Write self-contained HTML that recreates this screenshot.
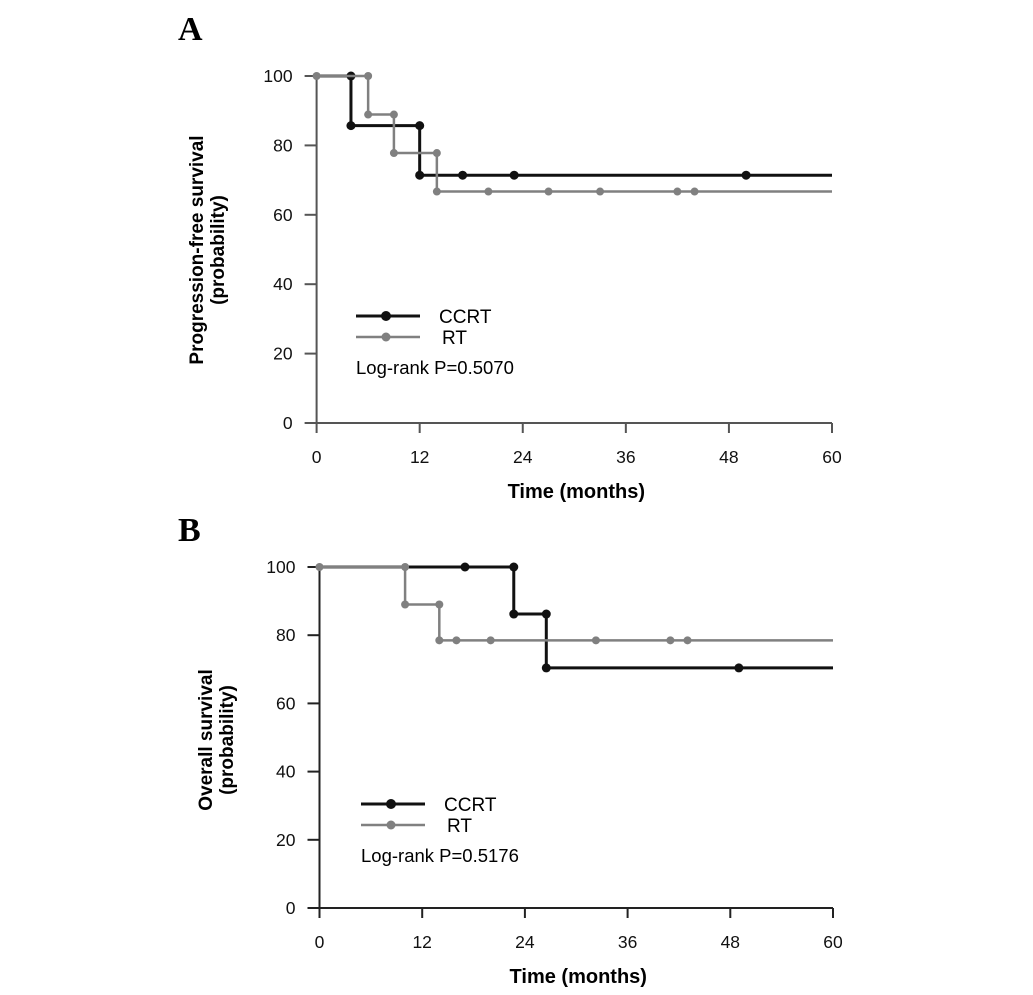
<!DOCTYPE html>
<html><head><meta charset="utf-8"><style>
html,body{margin:0;padding:0;background:#fff;}
svg{display:block;font-family:"Liberation Sans",Arial,sans-serif;}
</style></head><body>
<svg id="fig" width="1033" height="995" viewBox="0 0 1033 995"></svg>
<script>
// Panel A: progression-free survival
const ticksX = [0,12,24,36,48,60];
const ticksY = [0,20,40,60,80,100];
const aCcrtSteps = [[0,100],[4,85.7],[12,71.4]];
const aCcrtCensor = [17,23,50];
const aRtSteps = [[0,100],[6,88.9],[9,77.8],[14,66.7]];
const aRtCensor = [0,20,27,33,42,44];
// Panel B: overall survival
const bCcrtSteps = [[0,100],[22.7,86.2],[26.5,70.4]];
const bCcrtCensor = [17,49];
const bRtSteps = [[0,100],[10,89],[14,78.5]];
const bRtCensor = [0,16,20,32.3,41,43];

const NS='http://www.w3.org/2000/svg';
const svg=document.getElementById('fig');
function mk(tag,attrs,parent){const e=document.createElementNS(NS,tag);for(const k in attrs)e.setAttribute(k,attrs[k]);(parent||svg).appendChild(e);return e;}

function panel(cfg){
  const g=mk('g',{});
  
  
  const sx=v=>cfg.x0+(cfg.x1-cfg.x0)*v/60;
  const sy=v=>cfg.y0+(cfg.y1-cfg.y0)*v/100;
  const L=mk('text',{x:178,y:cfg.letterY,'font-family':'Liberation Serif, serif','font-weight':'bold','font-size':34},g);
  L.textContent=cfg.letter;
  
  
  const ax=mk('path',{d:`M${sx(0)} ${sy(100)}V${sy(0)}H${sx(60)}`,stroke:cfg.axisColor,'stroke-width':2,fill:'none'},g);
  
  
  ticksX.forEach(t=>{
    mk('line',{x1:sx(t),x2:sx(t),y1:sy(0),y2:sy(0)+10,stroke:cfg.axisColor,'stroke-width':2},g);
    const tx=mk('text',{x:sx(t),y:sy(0)+40,'text-anchor':'middle','font-size':17.5,fill:'#111'},g);
    tx.textContent=t;
    
    
  });
  ticksY.forEach(t=>{
    mk('line',{x1:sx(0)-12,x2:sx(0),y1:sy(t),y2:sy(t),stroke:cfg.axisColor,'stroke-width':2},g);
    const ty=mk('text',{x:sx(0)-24,y:sy(t)+6,'text-anchor':'end','font-size':17.5,fill:'#111'},g);
    ty.textContent=t;
    
    
  });
  const xt=mk('text',{x:(sx(0)+sx(60))/2+2,y:sy(0)+75,'text-anchor':'middle','font-size':20,'font-weight':'bold'},g);
  xt.textContent='Time (months)';
  
  
  cfg.ytitle.forEach((s,i)=>{
    const x=cfg.ytitleX+i*21, y=cfg.ytitleY;
    const yt=mk('text',{x:x,y:y,'text-anchor':'middle','font-size':19,'font-weight':'bold',transform:`rotate(-90 ${x} ${y})`},g);
    yt.textContent=s;
    
    
  });
  function series(steps,cens,color,w,r,name){
    let d=`M${sx(steps[0][0])} ${sy(steps[0][1])}`;
    const dots=[];
    for(let i=1;i<steps.length;i++){
      d+=`H${sx(steps[i][0])}`; dots.push([steps[i][0],steps[i-1][1]]);
      d+=`V${sy(steps[i][1])}`; dots.push([steps[i][0],steps[i][1]]);
    }
    d+=`H${sx(60)}`;
    const sg=mk('g',{},g);
    
    
    mk('path',{d:d,stroke:color,'stroke-width':w,fill:'none'},sg);
    const last=steps[steps.length-1][1];
    cens.forEach(c=>{
      let yv=last;
      for(let i=steps.length-1;i>=0;i--){if(c>=steps[i][0]){yv=steps[i][1];break;}}
      dots.push([c,yv]);
    });
    dots.forEach(p=>{
      const c=mk('circle',{cx:sx(p[0]),cy:sy(p[1]),r:r,fill:color},sg);
      
      
    });
  }
  series(cfg.ccrt,cfg.ccrtC,'#111',3,4.5,'ccrt-series');
  series(cfg.rt,cfg.rtC,'#808080',2.5,4,'rt-series');
  const lg=mk('g',{},g);
  
  
  const lx=cfg.legX, ly=cfg.legY;
  mk('line',{x1:lx,x2:lx+64,y1:ly,y2:ly,stroke:'#111','stroke-width':3},lg);
  mk('circle',{cx:lx+30,cy:ly,r:5,fill:'#111'},lg);
  const t1=mk('text',{x:lx+83,y:ly+7,'font-size':19},lg); t1.textContent='CCRT';
  
  
  mk('line',{x1:lx,x2:lx+64,y1:ly+21,y2:ly+21,stroke:'#808080','stroke-width':2.5},lg);
  mk('circle',{cx:lx+30,cy:ly+21,r:4.5,fill:'#808080'},lg);
  const t2=mk('text',{x:lx+cfg.rtOff,y:ly+28,'font-size':19},lg); t2.textContent='RT';
  
  
  const t3=mk('text',{x:lx,y:ly+58,'font-size':18.5},lg); t3.textContent=cfg.p;
  
  
}
panel({name:'panel-a',letter:'A',letterY:40,x0:316.6,x1:832,y0:423,y1:76,axisColor:'#555',
  ytitle:['Progression-free survival','(probability)'],ytitleX:203,ytitleY:250,
  ccrt:aCcrtSteps,ccrtC:aCcrtCensor,rt:aRtSteps,rtC:aRtCensor,legX:356,legY:316,rtOff:86,p:'Log-rank P=0.5070'});
panel({name:'panel-b',letter:'B',letterY:541,x0:319.5,x1:833,y0:908,y1:567,axisColor:'#222',
  ytitle:['Overall survival','(probability)'],ytitleX:212,ytitleY:740,
  ccrt:bCcrtSteps,ccrtC:bCcrtCensor,rt:bRtSteps,rtC:bRtCensor,legX:361,legY:804,rtOff:86,p:'Log-rank P=0.5176'});
</script>
</body></html>
